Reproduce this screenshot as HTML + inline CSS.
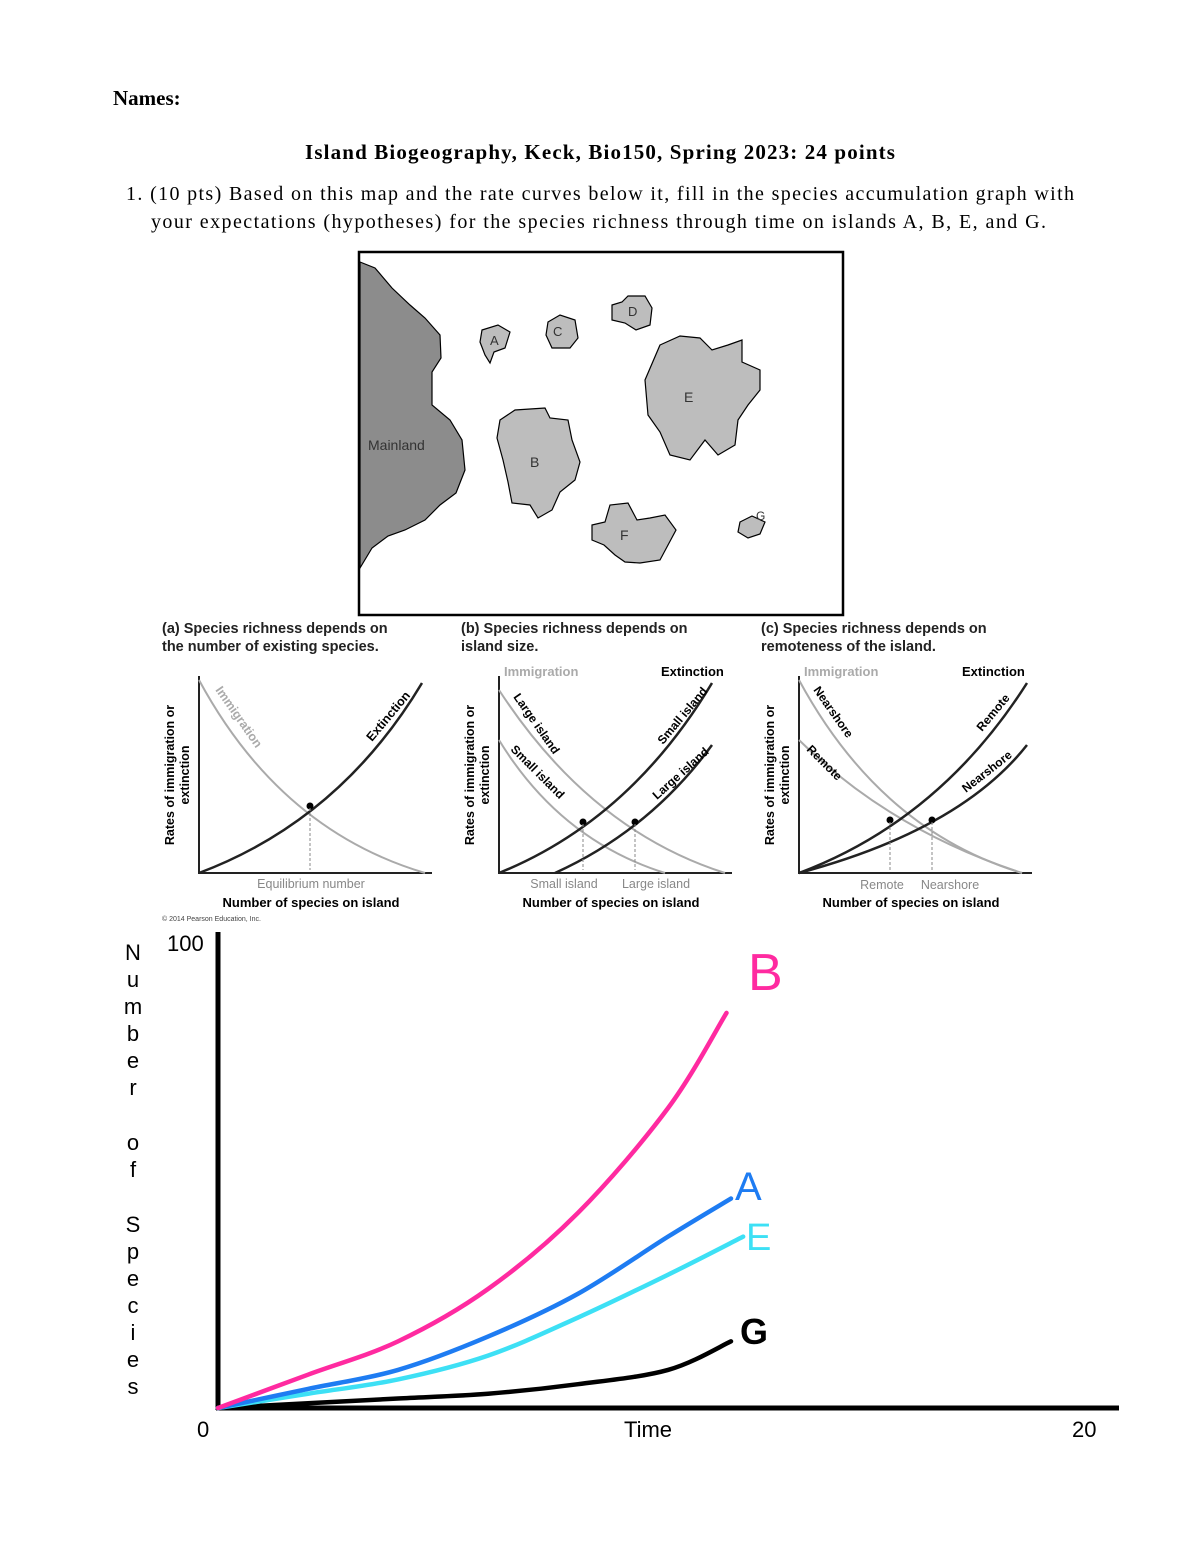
<!DOCTYPE html>
<html><head><meta charset="utf-8"><style>
body{margin:0;background:#fff}
svg{display:block}
.serif{font-family:"Liberation Serif",serif}
.sans{font-family:"Liberation Sans",sans-serif}
</style></head><body>
<svg width="1200" height="1553" viewBox="0 0 1200 1553">
<text class="serif" x="113" y="105" font-size="21" font-weight="bold">Names:</text>
<text class="serif" x="305" y="159" font-size="21" font-weight="bold" textLength="590">Island Biogeography, Keck, Bio150, Spring 2023: 24 points</text>
<text class="serif" x="126" y="200" font-size="20" textLength="948">1. (10 pts) Based on this map and the rate curves below it, fill in the species accumulation graph with</text>
<text class="serif" x="151" y="228" font-size="20" textLength="895">your expectations (hypotheses) for the species richness through time on islands A, B, E, and G.</text>

<g>
<rect x="359" y="252" width="484" height="363" fill="#fff" stroke="#000" stroke-width="2.5"/>
<polygon fill="#8c8c8c" stroke="#000" stroke-width="1.2" points="360,262 375,268 392,288 410,305 425,318 440,335 441,358 432,372 432,405 450,420 462,440 465,470 456,493 440,505 425,520 405,530 388,536 372,548 360,568"/>
<g fill="#bdbdbd" stroke="#000" stroke-width="1.2">
<polygon points="482,330 498,325 510,332 505,348 494,352 490,363 485,355 480,342"/>
<polygon points="500,420 515,410 545,408 550,418 568,420 572,440 580,462 575,480 560,492 552,510 538,518 530,505 512,503 508,482 503,460 497,438"/>
<polygon points="548,322 560,315 575,320 578,338 570,348 552,348 546,335"/>
<polygon points="612,305 622,302 628,296 645,296 652,308 650,325 636,330 625,323 612,320"/>
<polygon points="660,345 680,336 700,338 712,350 728,345 742,340 742,362 760,370 760,390 748,405 738,420 735,445 718,455 705,440 690,460 670,455 660,432 648,415 645,380"/>
<polygon points="592,525 605,522 610,505 628,503 637,520 650,518 665,515 676,530 668,545 660,560 640,563 625,562 615,555 604,545 592,540"/>
<polygon points="740,522 752,516 765,522 760,534 748,538 738,532"/>
</g>
<g class="sans" font-size="14" fill="#333">
<text x="368" y="450">Mainland</text>
<text x="490" y="345" font-size="13">A</text>
<text x="553" y="336" font-size="13">C</text>
<text x="628" y="316" font-size="13">D</text>
<text x="684" y="402">E</text>
<text x="530" y="467">B</text>
<text x="620" y="540">F</text>
<text x="756" y="520" font-size="12">G</text>
</g>
</g>

<g class="sans">
<text x="162" y="633" font-size="14.5" font-weight="bold" fill="#222">(a) Species richness depends on</text>
<text x="162" y="651" font-size="14.5" font-weight="bold" fill="#222">the number of existing species.</text>
<text transform="translate(174,775) rotate(-90)" font-size="12.5" font-weight="bold" text-anchor="middle">Rates of immigration or</text>
<text transform="translate(189,775) rotate(-90)" font-size="12.5" font-weight="bold" text-anchor="middle">extinction</text>
<path d="M199,676 V873 H432" fill="none" stroke="#222" stroke-width="2"/>
<path d="M199,680 Q280,830 425,873" fill="none" stroke="#aaa" stroke-width="2"/>
<path d="M199,873 Q340,820 422,683" fill="none" stroke="#222" stroke-width="2.5"/>
<circle cx="310" cy="806" r="3.5"/>
<path d="M310,808 V870" stroke="#888" stroke-dasharray="3,2"/>
<text transform="translate(215,690) rotate(55)" font-size="12.5" font-weight="bold" fill="#aaa">Immigration</text>
<text transform="translate(372,742) rotate(-50)" font-size="12.5" font-weight="bold">Extinction</text>
<text x="311" y="888" font-size="12.5" fill="#888" text-anchor="middle">Equilibrium number</text>
<text x="311" y="907" font-size="13" font-weight="bold" text-anchor="middle">Number of species on island</text>
<text x="162" y="921" font-size="7" fill="#444">© 2014 Pearson Education, Inc.</text>
</g>

<g class="sans">
<text x="461" y="633" font-size="14.5" font-weight="bold" fill="#222">(b) Species richness depends on</text>
<text x="461" y="651" font-size="14.5" font-weight="bold" fill="#222">island size.</text>
<text transform="translate(474,775) rotate(-90)" font-size="12.5" font-weight="bold" text-anchor="middle">Rates of immigration or</text>
<text transform="translate(489,775) rotate(-90)" font-size="12.5" font-weight="bold" text-anchor="middle">extinction</text>
<text x="504" y="676" font-size="13" font-weight="bold" fill="#aaa">Immigration</text>
<text x="661" y="676" font-size="13" font-weight="bold">Extinction</text>
<path d="M499,676 V873 H732" fill="none" stroke="#222" stroke-width="2"/>
<path d="M499,690 Q590,830 725,873" fill="none" stroke="#aaa" stroke-width="2"/>
<path d="M499,740 Q560,840 665,873" fill="none" stroke="#aaa" stroke-width="2"/>
<path d="M499,873 Q630,820 712,683" fill="none" stroke="#222" stroke-width="2.5"/>
<path d="M555,873 Q650,830 712,745" fill="none" stroke="#222" stroke-width="2.5"/>
<circle cx="583" cy="822" r="3.5"/><circle cx="635" cy="822" r="3.5"/>
<path d="M583,824 V870 M635,824 V870" stroke="#888" stroke-dasharray="3,2"/>
<text transform="translate(513,697) rotate(55)" font-size="12" font-weight="bold">Large island</text>
<text transform="translate(510,750) rotate(45)" font-size="12" font-weight="bold">Small island</text>
<text transform="translate(663,745) rotate(-50)" font-size="12" font-weight="bold">Small island</text>
<text transform="translate(657,800) rotate(-42)" font-size="12" font-weight="bold">Large island</text>
<text x="564" y="888" font-size="12.5" fill="#888" text-anchor="middle">Small island</text>
<text x="656" y="888" font-size="12.5" fill="#888" text-anchor="middle">Large island</text>
<text x="611" y="907" font-size="13" font-weight="bold" text-anchor="middle">Number of species on island</text>
</g>

<g class="sans">
<text x="761" y="633" font-size="14.5" font-weight="bold" fill="#222">(c) Species richness depends on</text>
<text x="761" y="651" font-size="14.5" font-weight="bold" fill="#222">remoteness of the island.</text>
<text transform="translate(774,775) rotate(-90)" font-size="12.5" font-weight="bold" text-anchor="middle">Rates of immigration or</text>
<text transform="translate(789,775) rotate(-90)" font-size="12.5" font-weight="bold" text-anchor="middle">extinction</text>
<text x="804" y="676" font-size="13" font-weight="bold" fill="#aaa">Immigration</text>
<text x="962" y="676" font-size="13" font-weight="bold">Extinction</text>
<path d="M799,676 V873 H1032" fill="none" stroke="#222" stroke-width="2"/>
<path d="M799,680 Q880,830 1022,873" fill="none" stroke="#aaa" stroke-width="2"/>
<path d="M799,740 Q890,830 1022,873" fill="none" stroke="#aaa" stroke-width="2"/>
<path d="M799,873 Q940,820 1027,683" fill="none" stroke="#222" stroke-width="2.5"/>
<path d="M799,873 Q960,830 1027,745" fill="none" stroke="#222" stroke-width="2.5"/>
<circle cx="890" cy="820" r="3.5"/><circle cx="932" cy="820" r="3.5"/>
<path d="M890,822 V870 M932,822 V870" stroke="#888" stroke-dasharray="3,2"/>
<text transform="translate(813,690) rotate(55)" font-size="12" font-weight="bold">Nearshore</text>
<text transform="translate(806,750) rotate(45)" font-size="12" font-weight="bold">Remote</text>
<text transform="translate(982,732) rotate(-50)" font-size="12" font-weight="bold">Remote</text>
<text transform="translate(966,793) rotate(-38)" font-size="12" font-weight="bold">Nearshore</text>
<text x="882" y="889" font-size="12.5" fill="#888" text-anchor="middle">Remote</text>
<text x="950" y="889" font-size="12.5" fill="#888" text-anchor="middle">Nearshore</text>
<text x="911" y="907" font-size="13" font-weight="bold" text-anchor="middle">Number of species on island</text>
</g>

<g id="main-chart">
<line x1="218" y1="932" x2="218" y2="1410" stroke="#000" stroke-width="5"/>
<line x1="216" y1="1408" x2="1119" y2="1408" stroke="#000" stroke-width="5"/>
<g class="sans" font-size="22">
<text x="167" y="951">100</text>
<text x="197" y="1437">0</text>
<text x="648" y="1437" text-anchor="middle">Time</text>
<text x="1072" y="1437">20</text>
<text x="133" y="960" text-anchor="middle">
<tspan x="133" dy="0">N</tspan><tspan x="133" dy="27">u</tspan><tspan x="133" dy="27">m</tspan><tspan x="133" dy="27">b</tspan><tspan x="133" dy="27">e</tspan><tspan x="133" dy="27">r</tspan><tspan x="133" dy="55">o</tspan><tspan x="133" dy="27">f</tspan><tspan x="133" dy="55">S</tspan><tspan x="133" dy="27">p</tspan><tspan x="133" dy="27">e</tspan><tspan x="133" dy="27">c</tspan><tspan x="133" dy="27">i</tspan><tspan x="133" dy="27">e</tspan><tspan x="133" dy="27">s</tspan></text>
</g>
<g id="series" fill="none" stroke-width="4.5" stroke-linecap="round"></g>
<g class="sans">
<text x="748" y="990" font-size="52" fill="#ff2aa0">B</text>
<text x="735" y="1200" font-size="40" fill="#1e7cf2">A</text>
<text x="746" y="1250" font-size="38" fill="#3de0f5">E</text>
<text x="740" y="1344" font-size="36" fill="#000" font-weight="bold">G</text>
</g>
</g>
</svg>
<script>
const timesB = [0, 2, 4, 6, 8, 10, 11.3];
const seriesB = [0, 7, 14, 25, 41, 63, 83];
const timesA = [0, 2, 4, 6, 8, 10, 11.4];
const seriesA = [0, 4, 8, 15, 24, 36, 44];
const timesE = [0, 2, 4, 6, 8, 10, 11.67];
const seriesE = [0, 3, 6, 11, 19, 28, 36];
const timesG = [0, 2, 4, 6, 8, 10, 11.4];
const seriesG = [0, 1, 2, 3, 5, 8, 14];
const xScale = t => 218 + t * 45;
const yScale = v => 1408 - v * 4.76;
const g = document.getElementById('series');
function draw(ts, vs, color, name) {
  const pts = ts.map((t, i) => [xScale(t), yScale(vs[i])]);
  let d = 'M' + pts[0][0] + ',' + pts[0][1];
  for (let i = 1; i < pts.length; i++) {
    const p0 = pts[Math.max(i - 2, 0)], p1 = pts[i - 1], p2 = pts[i], p3 = pts[Math.min(i + 1, pts.length - 1)];
    const c1 = [p1[0] + (p2[0] - p0[0]) / 6, p1[1] + (p2[1] - p0[1]) / 6];
    const c2 = [p2[0] - (p3[0] - p1[0]) / 6, p2[1] - (p3[1] - p1[1]) / 6];
    d += ' C' + c1 + ' ' + c2 + ' ' + p2;
  }
  const p = document.createElementNS('http://www.w3.org/2000/svg', 'path');
  p.setAttribute('d', d);
  p.setAttribute('stroke', color);
  
  
  g.appendChild(p);
}
draw(timesG, seriesG, '#000', 'curve-g');
draw(timesE, seriesE, '#3de0f5', 'curve-e');
draw(timesA, seriesA, '#1e7cf2', 'curve-a');
draw(timesB, seriesB, '#ff2aa0', 'curve-b');
</script>
</body></html>
